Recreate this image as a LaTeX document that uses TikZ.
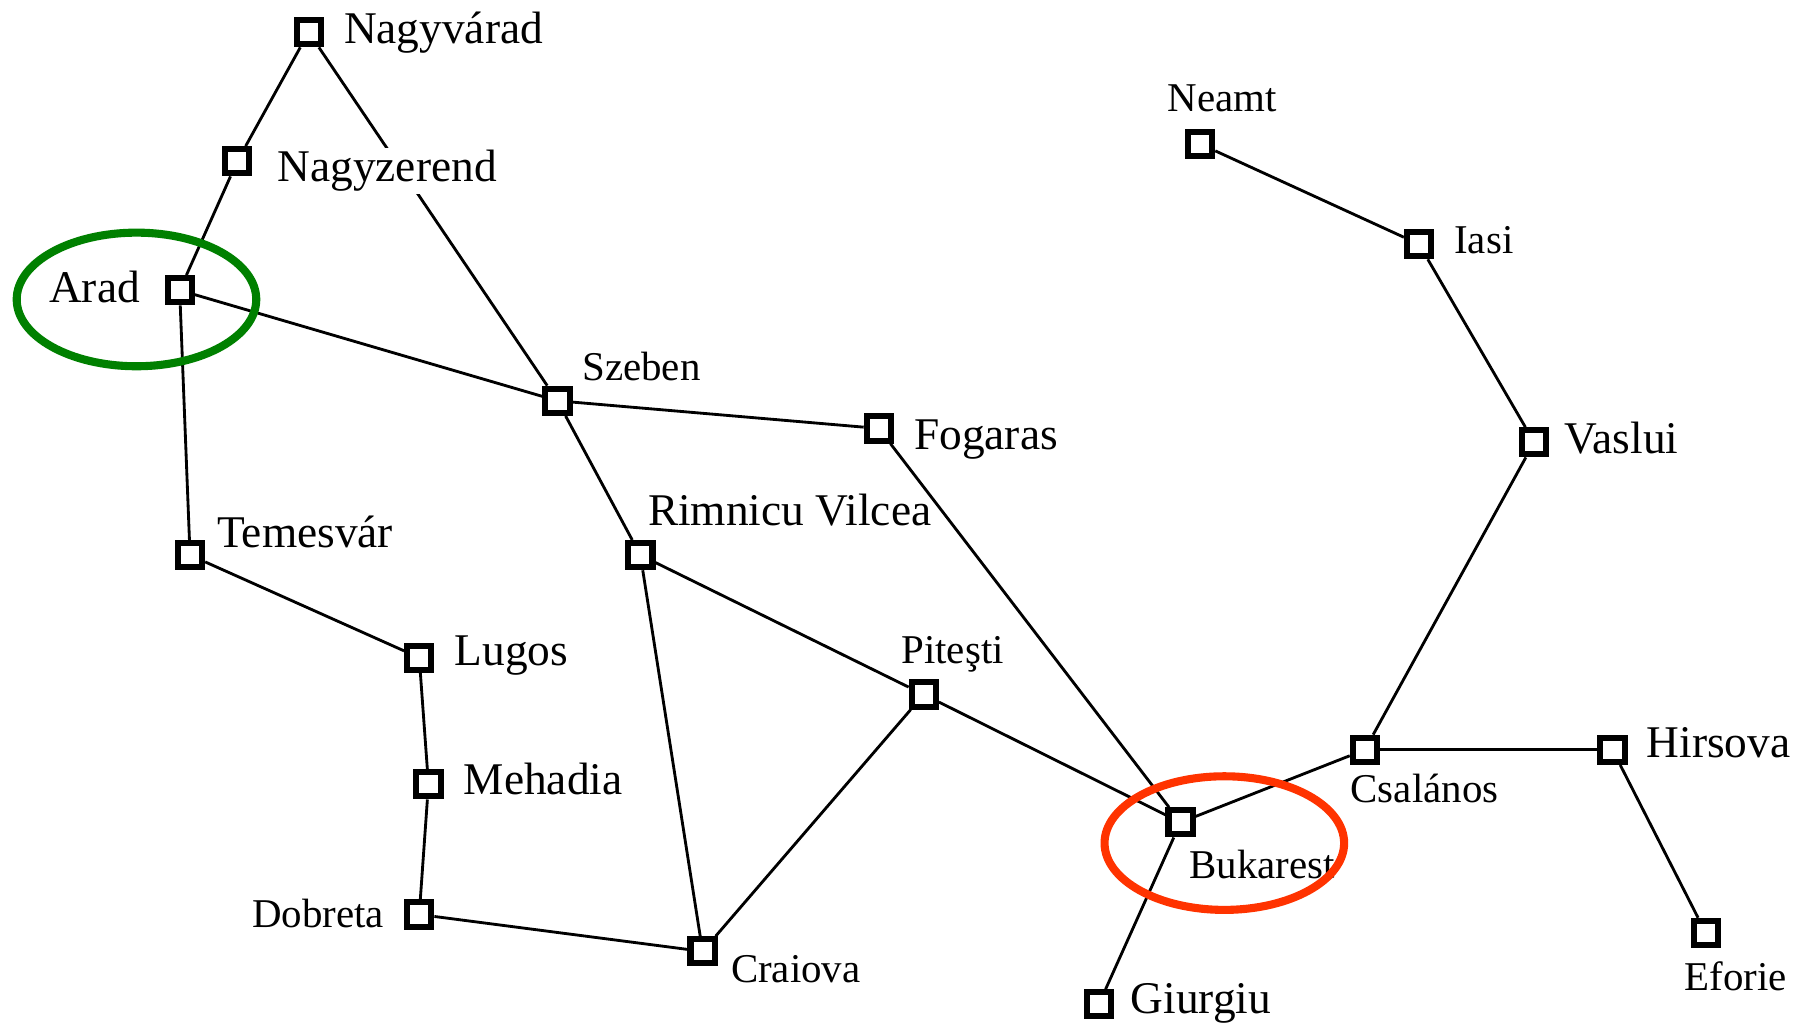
\documentclass[tikz,border=0pt]{standalone}
\usepackage{fontspec}
\setmainfont{Liberation Serif}
\begin{document}
\begin{tikzpicture}[x=0.01cm,y=-0.01cm,
  city/.style={draw, line width=1.5pt, fill=white, minimum size=0.21cm, inner sep=0},
  big/.style={font=\fontsize{11.2}{13}\selectfont, inner sep=0, anchor=base west},
  small/.style={font=\fontsize{10.1}{12}\selectfont, inner sep=0, anchor=base west},
  road/.style={line width=0.7pt},
  ring/.style={line width=2pt}]
\useasboundingbox (0,0) rectangle (1568,895);
% cities
\node[city] (nv) at (268,28) {};
\node[city] (nz) at (206,140) {};
\node[city] (arad) at (156,252) {};
\node[city] (szeben) at (484,348) {};
\node[city] (fogaras) at (763,372) {};
\node[city] (rimnicu) at (556,482) {};
\node[city] (temesvar) at (165,482) {};
\node[city] (lugos) at (364,571) {};
\node[city] (mehadia) at (372,681) {};
\node[city] (dobreta) at (364,794) {};
\node[city] (craiova) at (610,826) {};
\node[city] (pitesti) at (802,603) {};
\node[city] (bukarest) at (1025,714) {};
\node[city] (giurgiu) at (954,872) {};
\node[city] (csalanos) at (1185,651) {};
\node[city] (hirsova) at (1400,651) {};
\node[city] (eforie) at (1481,810) {};
\node[city] (vaslui) at (1332,384) {};
\node[city] (iasi) at (1232,212) {};
\node[city] (neamt) at (1042,125) {};
% roads
\draw[road] (nv) -- (nz);
\draw[road] (nz) -- (arad);
\draw[road] (nv) -- (szeben);
\draw[road] (arad) -- (szeben);
\draw[road] (arad) -- (temesvar);
\draw[road] (szeben) -- (fogaras);
\draw[road] (szeben) -- (rimnicu);
\draw[road] (fogaras) -- (bukarest);
\draw[road] (rimnicu) -- (pitesti);
\draw[road] (rimnicu) -- (craiova);
\draw[road] (temesvar) -- (lugos);
\draw[road] (lugos) -- (mehadia);
\draw[road] (mehadia) -- (dobreta);
\draw[road] (dobreta) -- (craiova);
\draw[road] (craiova) -- (pitesti);
\draw[road] (pitesti) -- (bukarest);
\draw[road] (bukarest) -- (giurgiu);
\draw[road] (bukarest) -- (csalanos);
\draw[road] (csalanos) -- (hirsova);
\draw[road] (hirsova) -- (eforie);
\draw[road] (csalanos) -- (vaslui);
\draw[road] (vaslui) -- (iasi);
\draw[road] (iasi) -- (neamt);
% labels
\node[big] (lnv) at (298,38) {Nagyvárad};
\node[big, fill=white, inner xsep=1.5pt, inner ysep=0.5pt] (lnz) at (235,158) {Nagyzerend};
\node[big] (larad) at (42,263) {Arad};
\node[small] (lszeben) at (505,330) {Szeben};
\node[big] (lfogaras) at (793,390) {Fogaras};
\node[big] (lrimnicu) at (562,456) {Rimnicu Vilcea};
\node[big] (ltemesvar) at (188,475) {Temesvár};
\node[big] (llugos) at (394,578) {Lugos};
\node[big] (lmehadia) at (402,690) {Mehadia};
\node[small, anchor=base east] (ldobreta) at (334,805) {Dobreta};
\node[small] (lcraiova) at (634,853) {Craiova};
\node[small] (lpitesti) at (782,576) {Piteşti};
\node[small] (lbukarest) at (1032,763) {Bukarest};
\node[big] (lgiurgiu) at (981,880) {Giurgiu};
\node[small] (lcsalanos) at (1172,697) {Csalános};
\node[big] (lhirsova) at (1429,658) {Hirsova};
\node[small] (leforie) at (1462,860) {Eforie};
\node[big] (lvaslui) at (1358,394) {Vaslui};
\node[small] (liasi) at (1262,220) {Iasi};
\node[small] (lneamt) at (1013,97) {Neamt};
% highlight rings
\definecolor{ringgreen}{RGB}{0,128,0}
\definecolor{ringred}{RGB}{255,51,0}
\draw[ring, ringgreen] (118.5,260) ellipse [x radius=104, y radius=58];
\draw[ring, ringred] (1063,732) ellipse [x radius=104, y radius=58];
\end{tikzpicture}
\end{document}
